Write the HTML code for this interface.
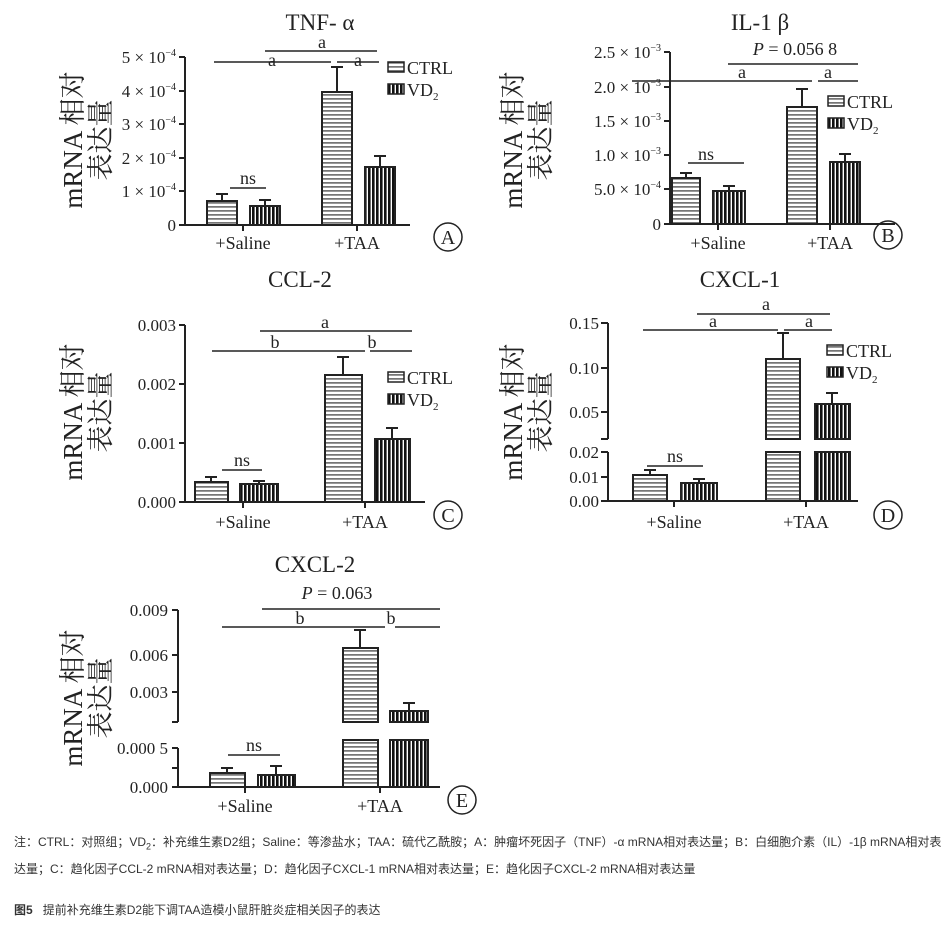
<!DOCTYPE html>
<html><head><meta charset="utf-8"><style>
body{margin:0;background:#fff;width:945px;height:926px;overflow:hidden}
svg text{font-family:"Liberation Serif","Noto Serif CJK SC",serif;fill:#222}
.cap{position:absolute;left:14px;font-family:"Liberation Sans","Noto Sans CJK SC",sans-serif;font-size:12px;color:#333}
</style></head><body>
<svg width="945" height="926" style="position:absolute;left:0;top:0">
<defs>
<pattern id="h" width="4" height="4" patternUnits="userSpaceOnUse"><rect width="4" height="4" fill="#fff"/><rect y="2.2" width="4" height="1.4" fill="#555"/></pattern>
<pattern id="v" width="4" height="4" patternUnits="userSpaceOnUse"><rect width="4" height="4" fill="#fff"/><rect x="0" width="2.6" height="4" fill="#111"/></pattern>
</defs>
<g stroke="#222" stroke-width="2" fill="none">
<path d="M185 57V225H410M185 57h-6M185 91h-6M185 124h-6M185 158h-6M185 191h-6M185 225h-6M243 225v6M357 225v6"/>
<rect x="207" y="201" width="30" height="24" fill="url(#h)"/><path d="M222 201v-7M216 194h12"/>
<rect x="250" y="206" width="30" height="19" fill="url(#v)"/><path d="M265 206v-6M259 200h12"/>
<rect x="322" y="92" width="30" height="133" fill="url(#h)"/><path d="M337 92V67M331 67h12"/>
<rect x="365" y="167" width="30" height="58" fill="url(#v)"/><path d="M380 167v-11M374 156h12"/>
<path d="M230 188h36M214 62h117M337 62h42M265 51h112" stroke-width="1.5"/>
<path d="M670 52V224H895M670 52h-6M670 87h-6M670 121h-6M670 155h-6M670 189h-6M670 224h-6M718 224v6M830 224v6"/>
<rect x="672" y="178" width="28" height="46" fill="url(#h)"/><path d="M686 178v-5M680 173h12"/>
<rect x="713" y="191" width="32" height="33" fill="url(#v)"/><path d="M729 191v-5M723 186h12"/>
<rect x="787" y="107" width="30" height="117" fill="url(#h)"/><path d="M802 107V89M796 89h12"/>
<rect x="830" y="162" width="30" height="62" fill="url(#v)"/><path d="M845 162v-8M839 154h12"/>
<path d="M688 163h56M632 81h180M818 81h40M728 64h130" stroke-width="1.5"/>
<path d="M185 325V502H425M185 325h-6M185 384h-6M185 443h-6M185 502h-6M243 502v6M365 502v6"/>
<rect x="195" y="482" width="33" height="20" fill="url(#h)"/><path d="M211 482v-5M205 477h12"/>
<rect x="240" y="484" width="38" height="18" fill="url(#v)"/><path d="M259 484v-3M253 481h12"/>
<rect x="325" y="375" width="37" height="127" fill="url(#h)"/><path d="M343 375v-18M337 357h12"/>
<rect x="375" y="439" width="35" height="63" fill="url(#v)"/><path d="M392 439v-11M386 428h12"/>
<path d="M222 470h40M212 351h153M370 351h42M260 331h152" stroke-width="1.5"/>
<path d="M608 323V439M601 439h7M608 452V501H858M601 452h7M608 323h-7M608 368h-7M608 412h-7M608 477h-7M608 501h-7M674 501v6M806 501v6"/>
<rect x="633" y="475" width="34" height="26" fill="url(#h)"/><path d="M650 475v-5M644 470h12"/>
<rect x="681" y="483" width="36" height="18" fill="url(#v)"/><path d="M699 483v-4M693 479h12"/>
<rect x="766" y="359" width="34" height="80" fill="url(#h)"/><rect x="766" y="452" width="34" height="49" fill="url(#h)"/><path d="M783 359v-26M777 333h12"/>
<rect x="815" y="404" width="35" height="35" fill="url(#v)"/><rect x="815" y="452" width="35" height="49" fill="url(#v)"/><path d="M832 404v-11M826 393h12"/>
<path d="M647 466h56M643 330h135M784 330h48M697 314h133" stroke-width="1.5"/>
<path d="M178 610V722M172 722h6M178 748V787H440M172 748h6M178 610h-6M178 655h-6M178 692h-6M178 768h-6M178 787h-6M245 787v6M380 787v6"/>
<rect x="210" y="773" width="35" height="14" fill="url(#h)"/><path d="M227 773v-5M221 768h12"/>
<rect x="258" y="775" width="37" height="12" fill="url(#v)"/><path d="M276 775v-9M270 766h12"/>
<rect x="343" y="648" width="35" height="74" fill="url(#h)"/><rect x="343" y="740" width="35" height="47" fill="url(#h)"/><path d="M360 648v-18M354 630h12"/>
<rect x="390" y="711" width="38" height="11" fill="url(#v)"/><rect x="390" y="740" width="38" height="47" fill="url(#v)"/><path d="M409 711v-8M403 703h12"/>
<path d="M228 755h52M222 627h163M395 627h45M262 609h178" stroke-width="1.5"/>
</g>
<g stroke="#222" stroke-width="1.5">
<rect x="388" y="62" width="16" height="10" fill="url(#h)"/><rect x="388" y="84" width="16" height="10" fill="url(#v)"/>
<rect x="828" y="96" width="16" height="10" fill="url(#h)"/><rect x="828" y="118" width="16" height="10" fill="url(#v)"/>
<rect x="388" y="372" width="16" height="10" fill="url(#h)"/><rect x="388" y="394" width="16" height="10" fill="url(#v)"/>
<rect x="827" y="345" width="16" height="10" fill="url(#h)"/><rect x="827" y="367" width="16" height="10" fill="url(#v)"/>
<circle cx="448" cy="237" r="14" fill="none"/><circle cx="888" cy="235" r="14" fill="none"/>
<circle cx="448" cy="515" r="14" fill="none"/><circle cx="888" cy="515" r="14" fill="none"/>
<circle cx="462" cy="800" r="14" fill="none"/>
</g>
<g font-size="18">
<text x="448" y="244" text-anchor="middle" font-size="20">A</text><text x="888" y="242" text-anchor="middle" font-size="20">B</text>
<text x="448" y="522" text-anchor="middle" font-size="20">C</text><text x="888" y="522" text-anchor="middle" font-size="20">D</text>
<text x="462" y="807" text-anchor="middle" font-size="20">E</text>
<text x="407" y="74">CTRL</text><text x="407" y="96">VD<tspan font-size="11" dy="4">2</tspan></text>
<text x="847" y="108">CTRL</text><text x="847" y="130">VD<tspan font-size="11" dy="4">2</tspan></text>
<text x="407" y="384">CTRL</text><text x="407" y="406">VD<tspan font-size="11" dy="4">2</tspan></text>
<text x="846" y="357">CTRL</text><text x="846" y="379">VD<tspan font-size="11" dy="4">2</tspan></text>
<text x="243" y="249" text-anchor="middle">+Saline</text><text x="357" y="249" text-anchor="middle">+TAA</text>
<text x="718" y="249" text-anchor="middle">+Saline</text><text x="830" y="249" text-anchor="middle">+TAA</text>
<text x="243" y="528" text-anchor="middle">+Saline</text><text x="365" y="528" text-anchor="middle">+TAA</text>
<text x="674" y="528" text-anchor="middle">+Saline</text><text x="806" y="528" text-anchor="middle">+TAA</text>
<text x="245" y="812" text-anchor="middle">+Saline</text><text x="380" y="812" text-anchor="middle">+TAA</text>
<text x="248" y="184" text-anchor="middle">ns</text><text x="272" y="66" text-anchor="middle">a</text><text x="358" y="66" text-anchor="middle">a</text><text x="322" y="48" text-anchor="middle">a</text>
<text x="706" y="160" text-anchor="middle">ns</text><text x="742" y="78" text-anchor="middle">a</text><text x="828" y="78" text-anchor="middle">a</text>
<text x="795" y="55" text-anchor="middle"><tspan font-style="italic">P</tspan> = 0.056 8</text>
<text x="242" y="466" text-anchor="middle">ns</text><text x="275" y="348" text-anchor="middle">b</text><text x="372" y="348" text-anchor="middle">b</text><text x="325" y="328" text-anchor="middle">a</text>
<text x="675" y="462" text-anchor="middle">ns</text><text x="713" y="327" text-anchor="middle">a</text><text x="809" y="327" text-anchor="middle">a</text><text x="766" y="310" text-anchor="middle">a</text>
<text x="254" y="751" text-anchor="middle">ns</text><text x="300" y="624" text-anchor="middle">b</text><text x="391" y="624" text-anchor="middle">b</text>
<text x="337" y="599" text-anchor="middle"><tspan font-style="italic">P</tspan> = 0.063</text>
</g>
<g font-size="23" text-anchor="middle">
<text x="320" y="30">TNF- α</text><text x="760" y="30">IL-1 β</text>
<text x="300" y="287">CCL-2</text><text x="740" y="287">CXCL-1</text><text x="315" y="572">CXCL-2</text>
</g>
<g font-size="17" text-anchor="end">
<text x="176" y="63">5 × 10<tspan font-size="10" dy="-7">−4</tspan></text>
<text x="176" y="97">4 × 10<tspan font-size="10" dy="-7">−4</tspan></text>
<text x="176" y="130">3 × 10<tspan font-size="10" dy="-7">−4</tspan></text>
<text x="176" y="164">2 × 10<tspan font-size="10" dy="-7">−4</tspan></text>
<text x="176" y="197">1 × 10<tspan font-size="10" dy="-7">−4</tspan></text>
<text x="176" y="231">0</text>
<text x="661" y="58">2.5 × 10<tspan font-size="10" dy="-7">−3</tspan></text>
<text x="661" y="93">2.0 × 10<tspan font-size="10" dy="-7">−3</tspan></text>
<text x="661" y="127">1.5 × 10<tspan font-size="10" dy="-7">−3</tspan></text>
<text x="661" y="161">1.0 × 10<tspan font-size="10" dy="-7">−3</tspan></text>
<text x="661" y="195">5.0 × 10<tspan font-size="10" dy="-7">−4</tspan></text>
<text x="661" y="230">0</text>
<text x="176" y="331">0.003</text><text x="176" y="390">0.002</text><text x="176" y="449">0.001</text><text x="176" y="508">0.000</text>
<text x="599" y="329">0.15</text><text x="599" y="374">0.10</text><text x="599" y="418">0.05</text><text x="599" y="458">0.02</text><text x="599" y="483">0.01</text><text x="599" y="507">0.00</text>
<text x="168" y="616">0.009</text><text x="168" y="661">0.006</text><text x="168" y="698">0.003</text><text x="168" y="754">0.000 5</text><text x="168" y="793">0.000</text>
</g>
<g font-size="27" text-anchor="middle">
<text transform="translate(82,140) rotate(-90)">mRNA 相对</text><text transform="translate(110,140) rotate(-90)">表达量</text>
<text transform="translate(522,140) rotate(-90)">mRNA 相对</text><text transform="translate(550,140) rotate(-90)">表达量</text>
<text transform="translate(82,412) rotate(-90)">mRNA 相对</text><text transform="translate(110,412) rotate(-90)">表达量</text>
<text transform="translate(522,412) rotate(-90)">mRNA 相对</text><text transform="translate(550,412) rotate(-90)">表达量</text>
<text transform="translate(82,698) rotate(-90)">mRNA 相对</text><text transform="translate(110,698) rotate(-90)">表达量</text>
</g>
</svg>
<div class="cap" style="top:831px;width:928px;line-height:23px">注：CTRL：对照组；VD<sub style="font-size:9px">2</sub>：补充维生素D2组；Saline：等渗盐水；TAA：硫代乙酰胺；A：肿瘤坏死因子（TNF）-α mRNA相对表达量；B：白细胞介素（IL）-1β mRNA相对表达量；C：趋化因子CCL-2 mRNA相对表达量；D：趋化因子CXCL-1 mRNA相对表达量；E：趋化因子CXCL-2 mRNA相对表达量</div>
<div class="cap" style="top:901px"><b>图5</b>&nbsp;&nbsp; 提前补充维生素D2能下调TAA造模小鼠肝脏炎症相关因子的表达</div>
</body></html>
